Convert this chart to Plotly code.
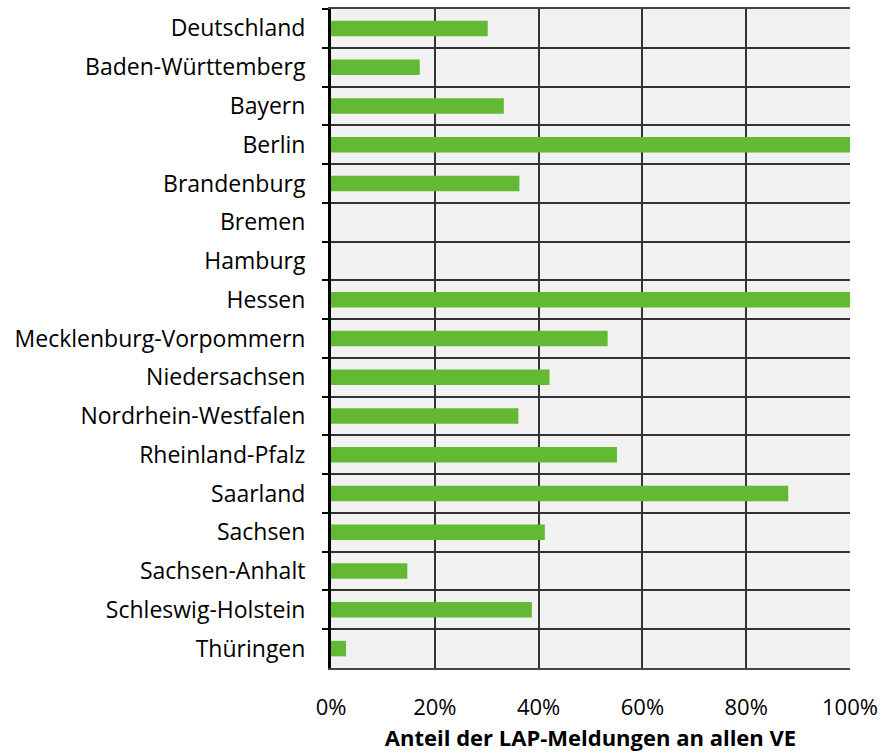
import plotly.graph_objects as go

# share of LAP reports in all VE, per federal state (percent)
states = [
    "Deutschland", "Baden-Württemberg", "Bayern", "Berlin", "Brandenburg",
    "Bremen", "Hamburg", "Hessen", "Mecklenburg-Vorpommern", "Niedersachsen",
    "Nordrhein-Westfalen", "Rheinland-Pfalz", "Saarland", "Sachsen",
    "Sachsen-Anhalt", "Schleswig-Holstein", "Thüringen",
]
share_pct = [
    30.2, 17.1, 33.3, 100.0, 36.3,
    0.0, 0.0, 100.0, 53.3, 42.1,
    36.1, 55.1, 88.1, 41.2,
    14.7, 38.7, 2.9,
]
x_ticks = [0, 20, 40, 60, 80, 100]
x_labels = [f"{v}%" for v in x_ticks]

FONT = "Open Sans, Liberation Sans, sans-serif"
GREEN = "#63b934"

fig = go.Figure()
fig.add_trace(
    go.Bar(
        x=share_pct,
        y=states,
        orientation="h",
        marker=dict(color=GREEN, line=dict(width=0)),
        showlegend=False,
    )
)

fig.update_layout(
    width=883, height=753,
    margin=dict(l=331, r=33, t=9, b=85),
    paper_bgcolor="white",
    plot_bgcolor="#f1f1f1",
    bargap=0.6,
    font=dict(family=FONT, size=22, color="black"),
)

fig.update_xaxes(
    range=[0, 100],
    tickmode="array",
    tickvals=x_ticks,
    ticktext=x_labels,
    showgrid=True, gridcolor="#333333", gridwidth=1.5,
    showline=True, linecolor="#444444", linewidth=1.5, mirror=True,
    zeroline=False,
    ticks="outside", ticklen=19, tickcolor="rgba(0,0,0,0)",
    tickfont=dict(size=22),
    title=dict(text="<b>Anteil der LAP-Meldungen an allen VE</b>",
               font=dict(size=22), standoff=10),
    automargin=False,
)

fig.update_yaxes(
    autorange="reversed",
    tickson="boundaries",
    ticks="outside", ticklen=6, tickwidth=2, tickcolor="black",
    showgrid=True, gridcolor="#333333", gridwidth=1.5,
    showline=True, linecolor="black", linewidth=3,
    tickfont=dict(size=23),
    ticklabelstandoff=18,
    automargin=False,
)

# drop the default 8px body margin so the figure fills the window exactly
fig.write_html(
    "out.html",
    config={"displayModeBar": False},
    post_script="document.body.style.margin = '0';",
)
